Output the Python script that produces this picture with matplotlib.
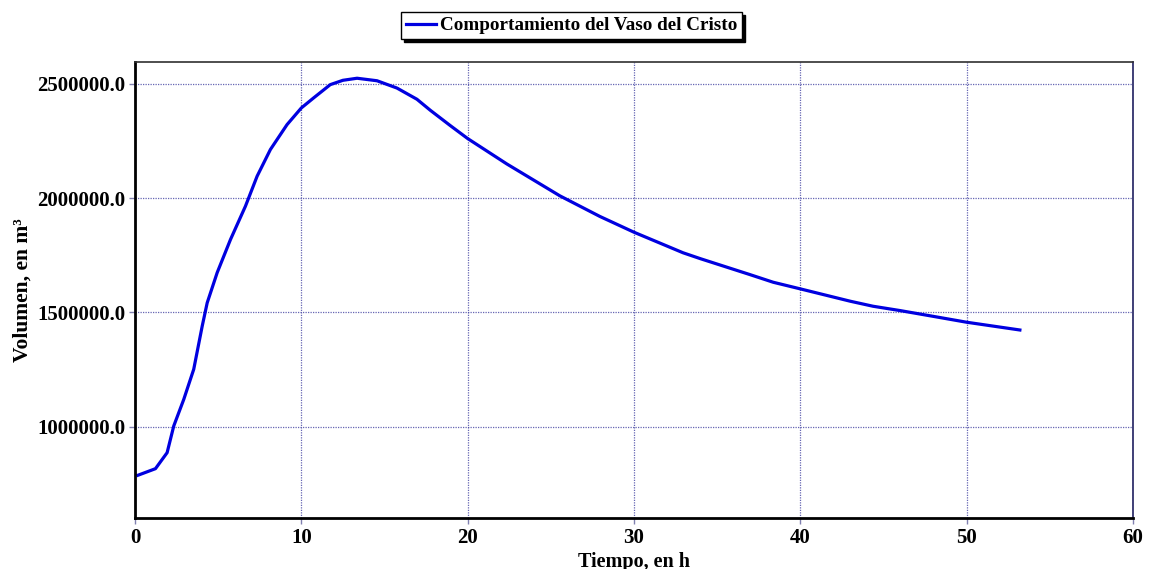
import matplotlib.pyplot as plt

# Volumen del vaso (m3) a lo largo del tiempo (h)
tiempo = [0.17, 1.23, 1.93, 2.33, 2.93, 3.53, 4.04, 4.34, 4.94, 5.74, 6.64, 7.34,
          8.14, 9.14, 10.0, 10.74, 11.74, 12.5, 13.35, 14.55, 15.75, 16.95, 17.75,
          18.95, 20.0, 22.35, 23.95, 25.55, 27.95, 30.0, 32.95, 34.0, 36.95,
          38.37, 40.0, 43.0, 44.37, 46.0, 47.97, 50.0, 53.2]
volumen = [787000, 816000, 886000, 1003000, 1119000, 1251000, 1440000, 1542000,
           1674000, 1819000, 1965000, 2096000, 2213000, 2322000, 2395000, 2439000,
           2497000, 2516000, 2525000, 2514000, 2482000, 2433000, 2385000,
           2318000, 2261000, 2150000, 2080000, 2010000, 1920000, 1851000, 1761000,
           1735000, 1666000, 1632000, 1603000, 1549000, 1527000, 1508000,
           1483000, 1457000, 1423000]

x_ticks = [0, 10, 20, 30, 40, 50, 60]
y_ticks = [1000000, 1500000, 2000000, 2500000]

plt.rcParams['font.family'] = ['Liberation Serif', 'DejaVu Serif']
plt.rcParams['font.weight'] = 'bold'

fig = plt.figure(figsize=(11.5, 5.69), dpi=100)
ax = fig.add_axes([0.1174, 0.0896, 0.8678, 0.8014])

ax.plot(tiempo, volumen, color='#0000e0', lw=2.3, solid_joinstyle='round',
        label='Comportamiento del Vaso del Cristo')

ax.set_xlim(0, 60)
ax.set_ylim(600000, 2596000)
ax.set_xticks(x_ticks)
ax.set_yticks(y_ticks)
ax.set_yticklabels([f'{v:.1f}' for v in y_ticks])
ax.tick_params(axis='both', labelsize=15, length=4, width=1, color='#8080b0', pad=3)
for lab in ax.get_xticklabels() + ax.get_yticklabels():
    lab.set_fontweight('bold')

ax.grid(True, color='#4040a0', linestyle=(0, (1, 1)), linewidth=0.9, alpha=0.8)

for s in ['left', 'bottom']:
    ax.spines[s].set_linewidth(2)
    ax.spines[s].set_color('black')
ax.spines['top'].set_color('#303030')
ax.spines['top'].set_linewidth(1.2)
ax.spines['right'].set_color('#202060')
ax.spines['right'].set_linewidth(1.2)

ax.set_xlabel('Tiempo, en h', fontsize=14.5, fontweight='bold', labelpad=3)
ax.set_ylabel('Volumen, en m³', fontsize=15.5, fontweight='bold', labelpad=3)

leg = fig.legend(loc='center', bbox_to_anchor=(0.497, 0.955), fontsize=13.8,
                 frameon=True, fancybox=False,
                 shadow={'color': 'black', 'alpha': 1},
                 handlelength=1.6, handletextpad=0.2, borderpad=0.25,
                 borderaxespad=0)
leg.get_frame().set_edgecolor('black')
leg.get_frame().set_linewidth(1)
for t in leg.get_texts():
    t.set_fontweight('bold')

fig.savefig('out.png', dpi=100)
